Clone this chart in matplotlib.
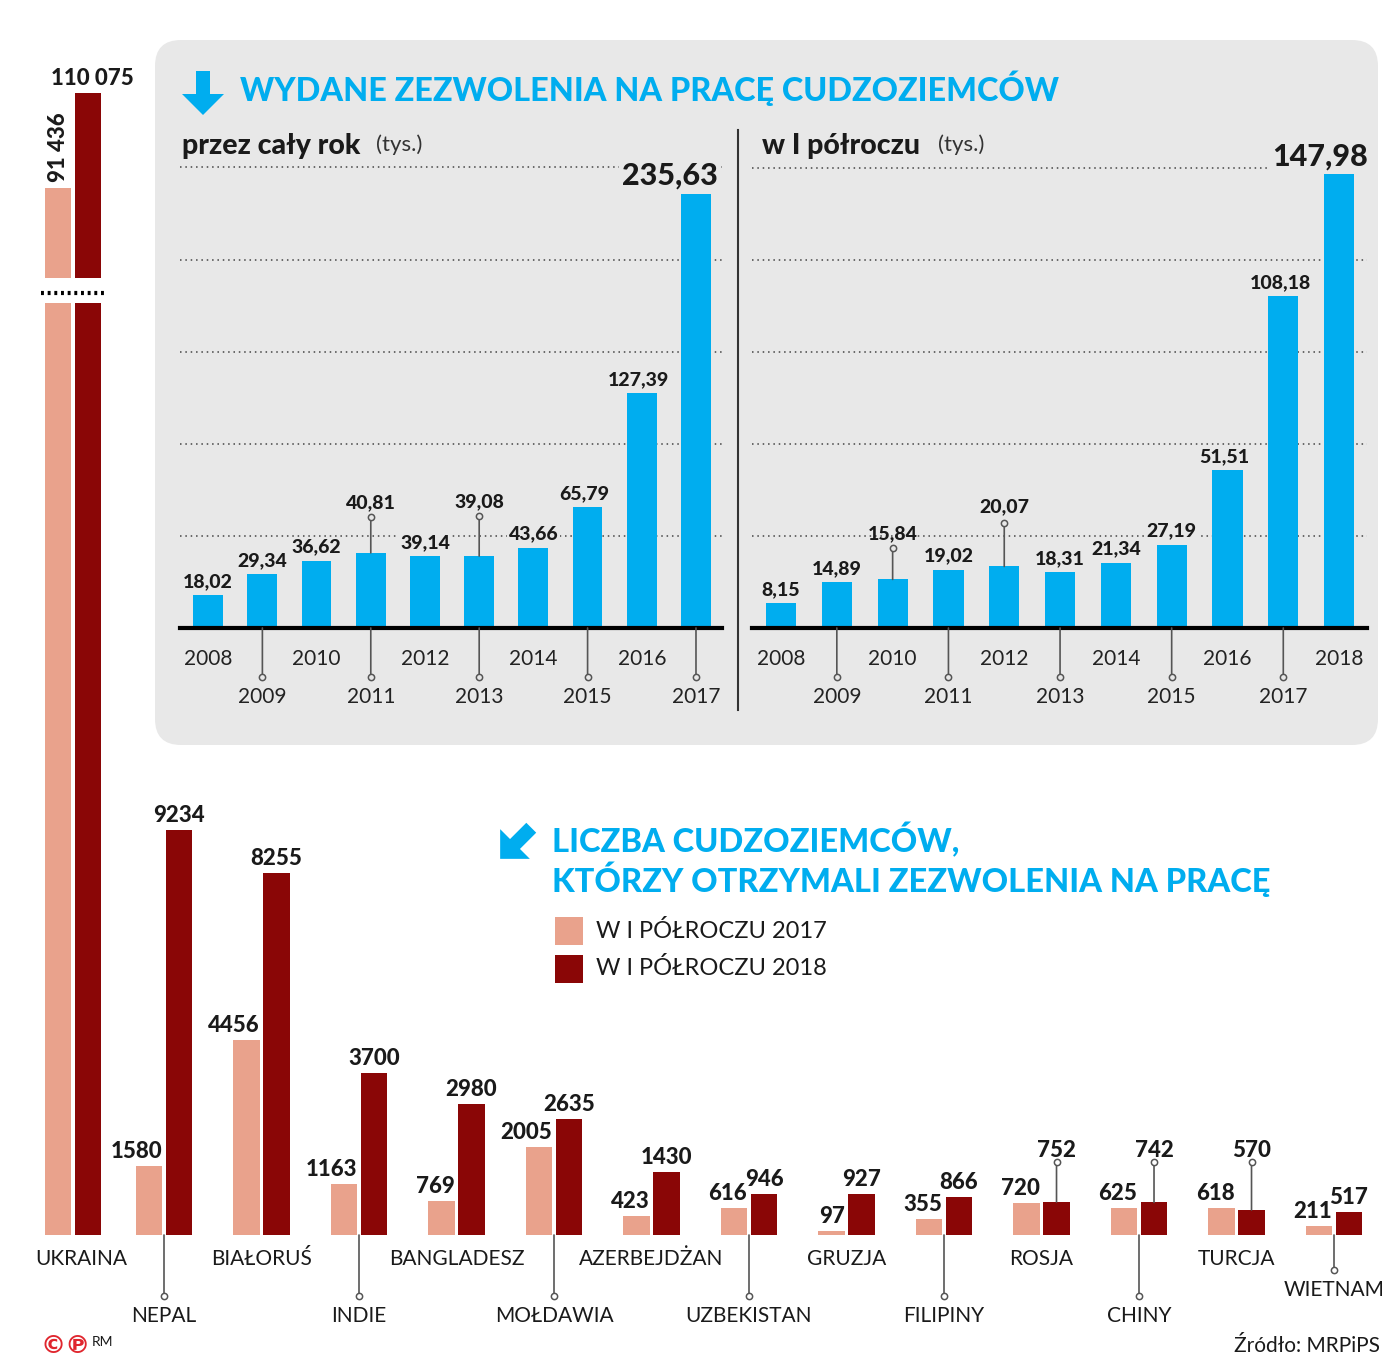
import numpy as np
import matplotlib.pyplot as plt
import matplotlib.transforms as mtransforms
from matplotlib.patches import FancyBboxPatch, Polygon, Rectangle

plt.rcParams['font.family'] = ['Lato', 'DejaVu Sans']

# ---- data ----
years_full = ['2008', '2009', '2010', '2011', '2012', '2013', '2014', '2015', '2016', '2017']
permits_full = [18.02, 29.34, 36.62, 40.81, 39.14, 39.08, 43.66, 65.79, 127.39, 235.63]

years_half = ['2008', '2009', '2010', '2011', '2012', '2013', '2014', '2015', '2016', '2017', '2018']
permits_half = [8.15, 14.89, 15.84, 19.02, 20.07, 18.31, 21.34, 27.19, 51.51, 108.18, 147.98]

countries = ['UKRAINA', 'NEPAL', 'BIAŁORUŚ', 'INDIE', 'BANGLADESZ', 'MOŁDAWIA', 'AZERBEJDŻAN',
             'UZBEKISTAN', 'GRUZJA', 'FILIPINY', 'ROSJA', 'CHINY', 'TURCJA', 'WIETNAM']
h1_2017 = [91436, 1580, 4456, 1163, 769, 2005, 423, 616, 97, 355, 720, 625, 618, 211]
h1_2018 = [110075, 9234, 8255, 3700, 2980, 2635, 1430, 946, 927, 866, 752, 742, 570, 517]

BLUE = '#00adef'
PALE = '#e9a28c'
DARK = '#8a0606'
GREY_BG = '#e8e8e8'
INK = '#1a1a1a'
LEAD = '#555555'
HEAVY = 'black'

W, H = 1400, 1369
fig = plt.figure(figsize=(W / 100, H / 100), dpi=100)


def px_rect(x0, y0, x1, y1):
    return [x0 / W, 1 - y1 / H, (x1 - x0) / W, (y1 - y0) / H]


def pl(v):
    return f'{v:.2f}'.replace('.', ',')


def thousands(v):
    return f'{v:,}'.replace(',', ' ') if v >= 10000 else str(v)


def leader(ax, x, y, length, bg):
    # thin line starting at (x, y), `length` pixels long (negative = down), open dot at the far end
    ax.annotate('', xy=(x, y), xytext=(0, length), textcoords='offset pixels',
                arrowprops=dict(arrowstyle='-', color=LEAD, lw=1.2, shrinkA=0, shrinkB=0),
                annotation_clip=False)
    tr = ax.transData + mtransforms.ScaledTranslation(0, length / 100, fig.dpi_scale_trans)
    ax.plot([x], [y], transform=tr, marker='o', ms=4.5, mfc=bg, mec=LEAD, mew=1.1,
            clip_on=False, zorder=5)


def arrow_poly(cx, cy, angle=0.0):
    pts = np.array([(-7, -23), (7, -23), (7, 0), (21, 0), (0, 21), (-21, 0), (-7, 0)], float)
    a = np.radians(angle)
    rot = np.array([[np.cos(a), -np.sin(a)], [np.sin(a), np.cos(a)]])
    return pts @ rot.T + [cx, cy]


# ---- decoration layer in pixel coordinates ----
deco = fig.add_axes([0, 0, 1, 1])
deco.set_xlim(0, W)
deco.set_ylim(H, 0)
deco.axis('off')

deco.add_patch(FancyBboxPatch((155, 40), 1223, 705, boxstyle='round,pad=0,rounding_size=26',
                              fc=GREY_BG, ec='none'))
deco.add_patch(Polygon(arrow_poly(203, 94), closed=True, fc=BLUE, ec='none'))
deco.text(240, 88, 'WYDANE ZEZWOLENIA NA PRACĘ CUDZOZIEMCÓW', color=BLUE, fontsize=23.3,
          fontweight=HEAVY, va='center')

deco.text(182, 146, 'przez cały rok', fontsize=20.5, fontweight=HEAVY, color=INK, va='center')
deco.text(376, 145, '(tys.)', fontsize=16, color='#333333', va='center')
deco.text(762, 146, 'w I półroczu', fontsize=20.5, fontweight=HEAVY, color=INK, va='center')
deco.text(938, 145, '(tys.)', fontsize=16, color='#333333', va='center')
deco.plot([738, 738], [130, 710], color='#333333', lw=1.5)

deco.add_patch(Polygon(arrow_poly(515, 844, 45), closed=True, fc=BLUE, ec='none'))
deco.text(552, 840, 'LICZBA CUDZOZIEMCÓW,', color=BLUE, fontsize=23.5, fontweight=HEAVY,
          va='center')
deco.text(552, 879, 'KTÓRZY OTRZYMALI ZEZWOLENIA NA PRACĘ', color=BLUE, fontsize=23.5,
          fontweight=HEAVY, va='center')
deco.add_patch(Rectangle((555, 917), 28, 28, fc=PALE, ec='none'))
deco.add_patch(Rectangle((555, 955), 28, 28, fc=DARK, ec='none'))
deco.text(596, 931, 'W I PÓŁROCZU 2017', fontsize=17, color=INK, va='center')
deco.text(596, 968, 'W I PÓŁROCZU 2018', fontsize=17, color=INK, va='center')

deco.plot([41, 106], [293, 293], color='black', lw=3, ls=(0, (0.7, 0.9)))

deco.text(40, 1346, '©℗', color='#e0262e', fontsize=18, fontweight='bold', va='center',
          family=['DejaVu Sans'])
deco.text(92, 1342, 'RM', color=INK, fontsize=10, va='center')
deco.text(1380, 1346, 'Źródło: MRPiPS', color=INK, fontsize=15, ha='right', va='center')


# ---- yearly permit panels ----
def year_panel(rect, years, values, xmax, ymax, step, width, leaders, big_dx):
    ax = fig.add_axes(px_rect(*rect))
    ax.set_facecolor('none')
    x = np.arange(len(values))
    ax.bar(x, values, width=width, color=BLUE, zorder=2)
    ax.axhline(0, color='black', lw=3, zorder=3, clip_on=False)
    ax.set_axisbelow(True)
    ax.set_yticks(np.arange(step, ymax, step))
    ax.grid(axis='y', ls=(0, (1, 2.5)), color='#444444', lw=1.1)
    ax.tick_params(left=False, bottom=False, labelleft=False, labelbottom=False)
    for s in ax.spines.values():
        s.set_visible(False)

    last = len(values) - 1
    for i, v in enumerate(values):
        if i == last:
            ax.annotate(pl(v), xy=(i, v), xytext=(big_dx, 9), textcoords='offset pixels',
                        ha='center', va='baseline', fontsize=22, fontweight=HEAVY, color=INK,
                        bbox=dict(fc=GREY_BG, ec='none', pad=2))
        elif i in leaders:
            lift, line = leaders[i]
            leader(ax, i, v, line, GREY_BG)
            ax.annotate(pl(v), xy=(i, v), xytext=(0, lift), textcoords='offset pixels',
                        ha='center', va='baseline', fontsize=14, fontweight=HEAVY, color=INK)
        else:
            ax.annotate(pl(v), xy=(i, v), xytext=(-3 if v > 50 else 0, 8),
                        textcoords='offset pixels', ha='center', va='baseline', fontsize=14,
                        fontweight=HEAVY, color=INK,
                        bbox=dict(fc=GREY_BG, ec='none', pad=1))

    for i, y in enumerate(years):
        if i % 2 == 0:
            ax.annotate(y, xy=(i, 0), xytext=(0, -31), textcoords='offset pixels',
                        ha='center', va='center', fontsize=15, color='#222222')
        else:
            leader(ax, i, 0, -49, GREY_BG)
            ax.annotate(y, xy=(i, 0), xytext=(0, -69), textcoords='offset pixels',
                        ha='center', va='center', fontsize=15, color='#222222')
    ax.set_xlim(-0.52, xmax)
    ax.set_ylim(0, ymax)
    return ax


year_panel((180, 150, 722, 628), years_full, permits_full, 9.48, 259.5, 50, 0.55,
           {3: (45, 36), 5: (49, 40)}, -26)
year_panel((752, 150, 1367, 628), years_half, permits_half, 10.5, 155.9, 30, 0.54,
           {2: (40, 31), 4: (54, 43)}, -19)

# ---- countries, lower part (broken axis) ----
gx = np.arange(len(countries), dtype=float)
gx[0] += 0.07
off, bw = 0.154, 0.267

low = fig.add_axes(px_rect(8, 303, 1392.5, 1235))
low.set_facecolor('none')
low.axis('off')
low.bar(gx - off, h1_2017, bw, color=PALE)
low.bar(gx + off, h1_2018, bw, color=DARK)

kw = dict(textcoords='offset pixels', va='baseline', fontsize=16, fontweight=HEAVY, color=INK)
lifted = {10: (45, 40), 11: (45, 40), 12: (53, 48)}
for i in range(1, len(countries)):
    low.annotate(thousands(h1_2017[i]), xy=(gx[i] - off + bw / 2, h1_2017[i]), xytext=(0, 8),
                 ha='right', **kw)
    if i in lifted:
        lift, line = lifted[i]
        leader(low, gx[i] + off, h1_2018[i], line, 'white')
        low.annotate(thousands(h1_2018[i]), xy=(gx[i] + off, h1_2018[i]), xytext=(0, lift),
                     ha='center', **kw)
    else:
        low.annotate(thousands(h1_2018[i]), xy=(gx[i] + off, h1_2018[i]), xytext=(0, 8),
                     ha='center', **kw)

for i, name in enumerate(countries):
    if i % 2 == 0:
        dy = -24
    else:
        dy = -55 if i == len(countries) - 1 else -81
        leader(low, gx[i], 0, dy + 20, 'white')
    low.annotate(name, xy=(gx[i], 0), xytext=(8 if i == 0 else 0, dy), textcoords='offset pixels',
                 ha='center', va='center', fontsize=15, color=INK)
low.set_xlim(-0.6, 13.6)
low.set_ylim(0, 21250)

# ---- Ukraine, upper part ----
up = fig.add_axes(px_rect(8, 60, 1392.5, 278))
up.set_facecolor('none')
up.axis('off')
up.bar(gx[0] - off, h1_2017[0], bw, color=PALE)
up.bar(gx[0] + off, h1_2018[0], bw, color=DARK)
up.annotate(thousands(h1_2018[0]), xy=(gx[0] + off, h1_2018[0]), xytext=(4, 8),
            ha='center', **kw)
up.annotate(thousands(h1_2017[0]), xy=(gx[0] - off, h1_2017[0]), xytext=(0, 6),
            textcoords='offset pixels', ha='center', va='bottom', rotation=90,
            fontsize=16, fontweight=HEAVY, color=INK)
up.set_xlim(-0.6, 13.6)
up.set_ylim(73778, 116550)

fig.savefig('out.png', dpi=100)
